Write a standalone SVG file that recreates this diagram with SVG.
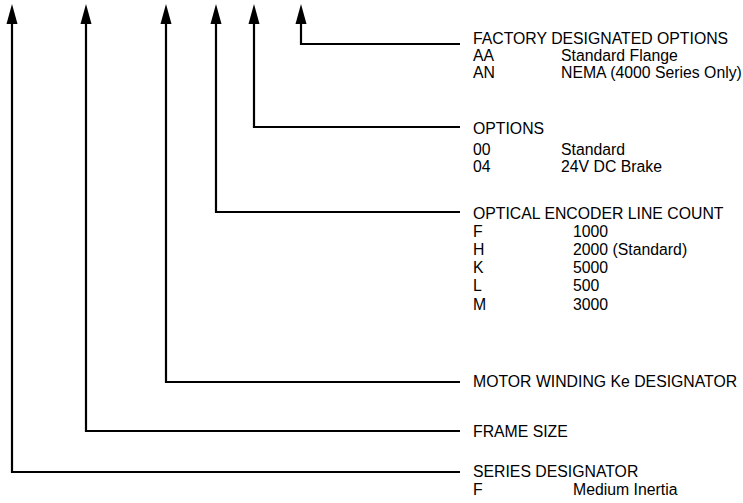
<svg xmlns="http://www.w3.org/2000/svg" width="743" height="503" viewBox="0 0 743 503">
<style>
.c{fill:none;stroke:#000;stroke-width:2.2}
.h{fill:#000}
text{font-family:"Liberation Sans",Arial,sans-serif;font-size:15.8px;fill:#000}
</style>
<rect width="743" height="503" fill="#fff"/>
<g id="connectors">
<path class="c" d="M12 22V472H460"/>
<path class="c" d="M86 22V431H460"/>
<path class="c" d="M166 22V382H460"/>
<path class="c" d="M216 22V212H460"/>
<path class="c" d="M254 22V127H460"/>
<path class="c" d="M301 22V44H460"/>
<polygon class="h" points="12,4 6.5,24 17.5,24"/>
<polygon class="h" points="86,4 80.5,24 91.5,24"/>
<polygon class="h" points="166,4 160.5,24 171.5,24"/>
<polygon class="h" points="216,4 210.5,24 221.5,24"/>
<polygon class="h" points="254,4 248.5,24 259.5,24"/>
<polygon class="h" points="301,4 295.5,24 306.5,24"/>
</g>
<g id="factory">
<text x="473" y="44">FACTORY DESIGNATED OPTIONS</text>
<text x="473" y="61">AA</text><text x="561" y="61">Standard Flange</text>
<text x="473" y="78">AN</text><text x="561" y="78">NEMA (4000 Series Only)</text>
</g>
<g id="options">
<text x="473" y="134">OPTIONS</text>
<text x="473" y="155">00</text><text x="561" y="155">Standard</text>
<text x="473" y="172">04</text><text x="561" y="172">24V DC Brake</text>
</g>
<g id="encoder">
<text x="473" y="219">OPTICAL ENCODER LINE COUNT</text>
<text x="473" y="237">F</text><text x="573" y="237">1000</text>
<text x="473" y="255">H</text><text x="573" y="255">2000 (Standard)</text>
<text x="473" y="273">K</text><text x="573" y="273">5000</text>
<text x="473" y="291">L</text><text x="573" y="291">500</text>
<text x="473" y="310">M</text><text x="573" y="310">3000</text>
</g>
<g id="winding">
<text x="473" y="387">MOTOR WINDING Ke DESIGNATOR</text>
</g>
<g id="frame">
<text x="473" y="437">FRAME SIZE</text>
</g>
<g id="series">
<text x="473" y="477">SERIES DESIGNATOR</text>
<text x="473" y="495">F</text><text x="573" y="495">Medium Inertia</text>
</g>
</svg>
